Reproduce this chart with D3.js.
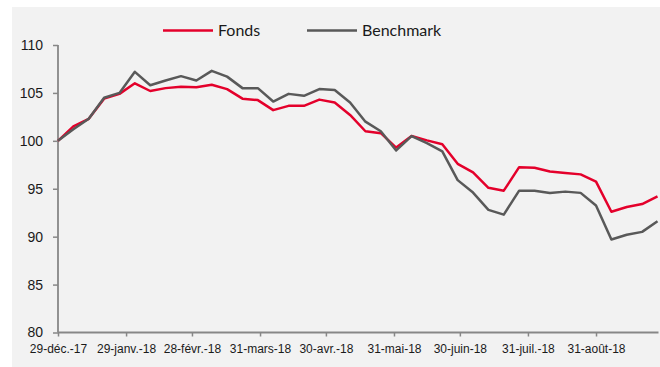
<!DOCTYPE html>
<html>
<head>
<meta charset="utf-8">
<script src="https://cdn.jsdelivr.net/npm/d3@7/dist/d3.min.js"></script>
<style>
  html, body { margin: 0; padding: 0; background: #ffffff; }
  svg { display: block; font-family: Lato, "Open Sans", sans-serif; }
</style>
</head>
<body>
<svg id="chart" width="660" height="367"></svg>
<script>
// Weekly observations (Fridays), starting 29 Dec 2017
const startDate = new Date(2017, 11, 29);
const weekCount = 40;

const fonds = [
  100.0, 101.5, 102.3, 104.4, 104.9, 106.0, 105.2, 105.5, 105.65, 105.6,
  105.85, 105.4, 104.4, 104.25, 103.2, 103.65, 103.65, 104.3, 104.0, 102.7,
  101.0, 100.8, 99.3, 100.5, 100.05, 99.65, 97.6, 96.7, 95.1, 94.8,
  97.25, 97.2, 96.8, 96.65, 96.5, 95.75, 92.6, 93.1, 93.4, 94.2
];

const benchmark = [
  100.0, 101.2, 102.3, 104.5, 105.0, 107.2, 105.8, 106.3, 106.75, 106.3,
  107.3, 106.7, 105.5, 105.5, 104.1, 104.9, 104.7, 105.4, 105.3, 104.0,
  102.0, 101.0, 99.0, 100.5, 99.75, 98.9, 95.9, 94.6, 92.8, 92.3,
  94.8, 94.8, 94.55, 94.7, 94.57, 93.25, 89.7, 90.2, 90.5, 91.6
];

const seriesNames = ["Fonds", "Benchmark"];
const seriesColors = ["#e4002b", "#595959"];

const yTicks = [80, 85, 90, 95, 100, 105, 110];
const xTickDates = [
  new Date(2017, 11, 29), new Date(2018, 0, 29), new Date(2018, 1, 28),
  new Date(2018, 2, 31), new Date(2018, 3, 30), new Date(2018, 4, 31),
  new Date(2018, 5, 30), new Date(2018, 6, 31), new Date(2018, 7, 31)
];
const xTickLabels = [
  "29-déc.-17", "29-janv.-18", "28-févr.-18", "31-mars-18", "30-avr.-18",
  "31-mai-18", "30-juin-18", "31-juil.-18", "31-août-18"
];

const dates = d3.range(weekCount).map(i => d3.timeDay.offset(startDate, i * 7));

const svg = d3.select("#chart");
const W = 660, H = 367;

// panel background
svg.append("rect")
  .attr("x", 12).attr("y", 7)
  .attr("width", W - 12).attr("height", H - 7)
  .attr("fill", "#f2f2f2");

const plot = { left: 58, right: 657.5, top: 45, bottom: 332.5 };

const x = d3.scaleTime()
  .domain([startDate, dates[dates.length - 1]])
  .range([plot.left, plot.right]);

const y = d3.scaleLinear()
  .domain([80, 110])
  .range([plot.bottom, plot.top]);

const axisColor = "#878787";

// y axis
const yAxis = svg.append("g")
  .attr("transform", `translate(${plot.left},0)`)
  .call(d3.axisLeft(y).tickValues(yTicks).tickSize(5).tickPadding(10).tickFormat(d3.format("d")));
yAxis.select(".domain").attr("stroke", axisColor).attr("stroke-width", 1.8)
  .attr("d", `M0,${plot.top}V${plot.bottom}`);
yAxis.selectAll(".tick line").attr("stroke", axisColor).attr("stroke-width", 1.5);
yAxis.selectAll(".tick text")
  .attr("fill", "#1a1a1a").style("font-size", "14px");

// x axis
const xAxis = svg.append("g")
  .attr("transform", `translate(0,${plot.bottom})`)
  .call(d3.axisBottom(x).tickValues(xTickDates).tickSize(4).tickPadding(8)
    .tickFormat((d, i) => xTickLabels[i]));
xAxis.select(".domain").attr("stroke", axisColor).attr("stroke-width", 1.8)
  .attr("d", `M${plot.left},0H${plot.right + 1}`);
xAxis.selectAll(".tick line").attr("stroke", axisColor).attr("stroke-width", 1.5);
xAxis.selectAll(".tick text")
  .attr("fill", "#1a1a1a").style("font-size", "12px");

// series lines, drawn in order so the benchmark sits on top
const line = d3.line()
  .x((d, i) => x(dates[i]))
  .y(d => y(d));

[fonds, benchmark].forEach((vals, k) => {
  svg.append("path")
    .datum(vals)
    .attr("fill", "none")
    .attr("stroke", seriesColors[k])
    .attr("stroke-width", 2.5)
    .attr("stroke-linejoin", "round")
    .attr("d", line);
});

// legend
const legendItems = [
  { x1: 163, x2: 213, tx: 218 },
  { x1: 307, x2: 357, tx: 362 }
];
const legendY = 30.5;
legendItems.forEach((it, k) => {
  svg.append("line")
    .attr("x1", it.x1).attr("x2", it.x2)
    .attr("y1", legendY).attr("y2", legendY)
    .attr("stroke", seriesColors[k]).attr("stroke-width", 2.5);
  svg.append("text")
    .attr("x", it.tx).attr("y", legendY + 5.5)
    .attr("fill", "#1a1a1a")
    .style("font-size", "16px")
    .text(seriesNames[k]);
});
</script>
</body>
</html>
